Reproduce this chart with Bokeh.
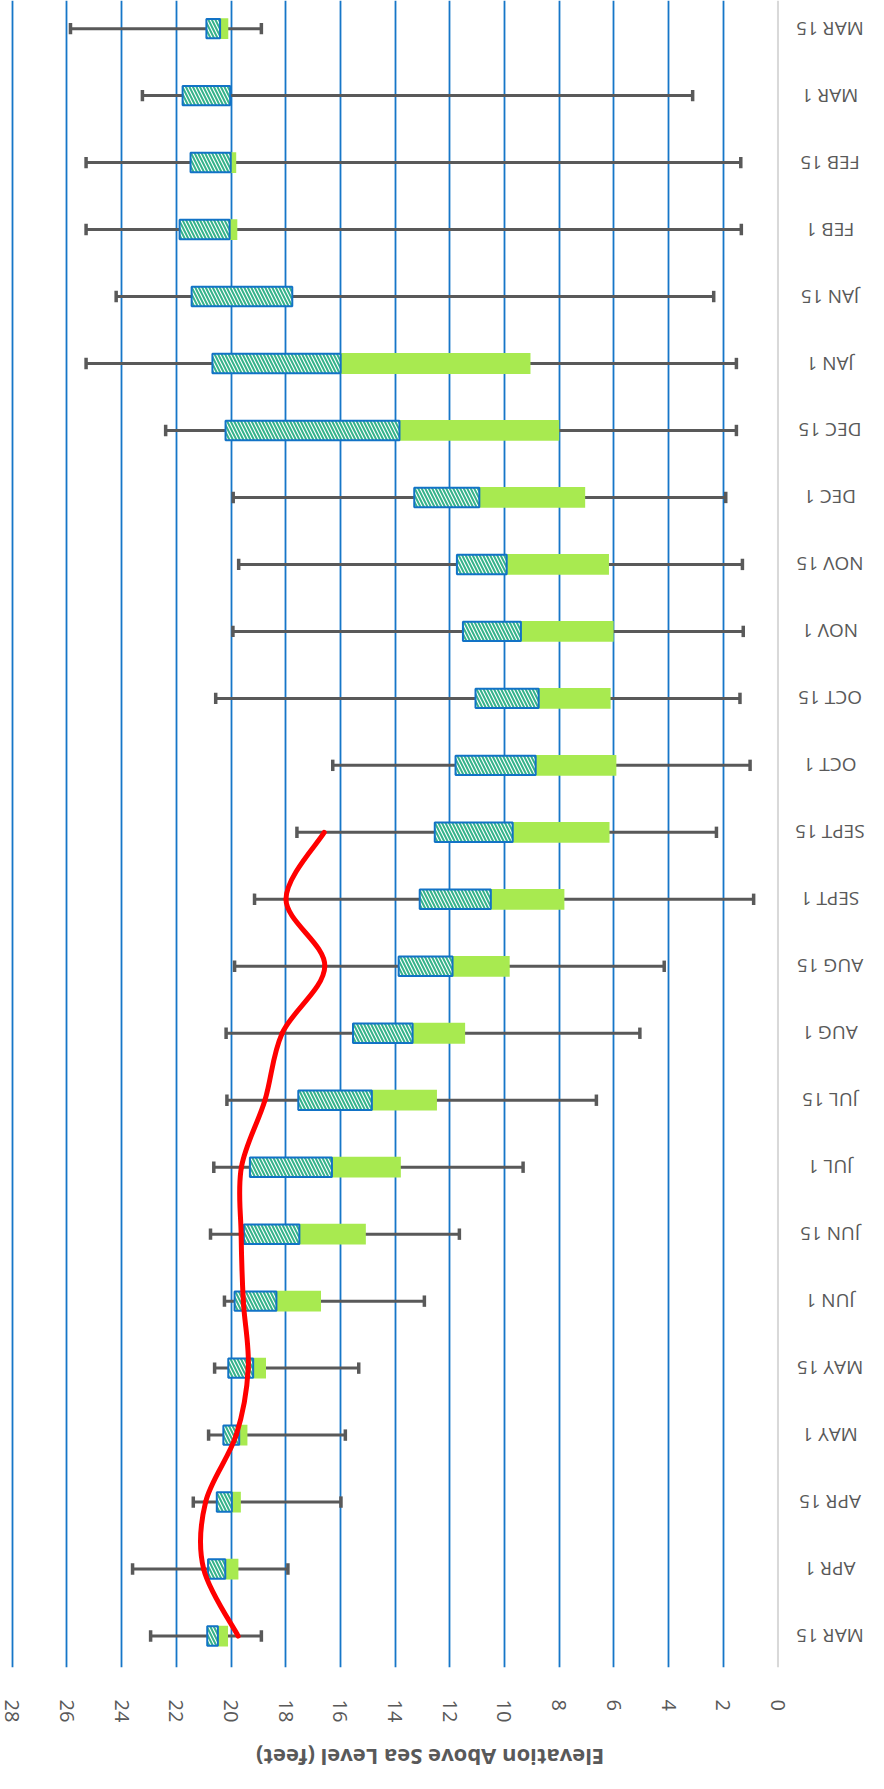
import numpy as np
from bokeh.plotting import figure
from bokeh.layouts import column
from bokeh.models import FixedTicker, Range1d, Span
from bokeh.core.properties import value
from bokeh.embed import file_html
from bokeh.resources import INLINE

# ---- data (chronological, bottom row first) ----
dates = ["MAR 15", "APR 1", "APR 15", "MAY 1", "MAY 15", "JUN 1", "JUN 15",
         "JUL 1", "JUL 15", "AUG 1", "AUG 15", "SEPT 1", "SEPT 15", "OCT 1",
         "OCT 15", "NOV 1", "NOV 15", "DEC 1", "DEC 15", "JAN 1", "JAN 15",
         "FEB 1", "FEB 15", "MAR 1", "MAR 15"]
whisker_high = [22.94, 23.60, 21.38, 20.82, 20.60, 20.24, 20.75, 20.63, 20.15,
                20.18, 19.87, 19.14, 17.59, 16.28, 20.56, 19.93, 19.72, 19.92,
                22.39, 25.30, 24.20, 25.30, 25.30, 23.24, 25.87]
whisker_low = [18.89, 17.92, 15.98, 15.82, 15.33, 12.93, 11.65, 9.32, 6.64,
               5.05, 4.16, 0.89, 2.25, 1.02, 1.39, 1.27, 1.30, 1.91, 1.52,
               1.52, 2.35, 1.34, 1.36, 3.12, 18.89]
upper = [20.87, 20.84, 20.52, 20.28, 20.10, 19.87, 19.53, 19.31, 17.54, 15.54,
         13.87, 13.10, 12.55, 11.79, 11.06, 11.52, 11.74, 13.30, 20.20, 20.68,
         21.44, 21.88, 21.48, 21.77, 20.90]
median = [20.48, 20.21, 19.97, 19.70, 19.19, 18.34, 17.50, 16.31, 14.85, 13.36,
          11.90, 10.50, 9.70, 8.86, 8.75, 9.40, 9.92, 10.92, 13.84, 15.99,
          17.76, 20.05, 20.01, 20.03, 20.40]
lower = [20.11, 19.73, 19.64, 19.40, 18.72, 16.71, 15.07, 13.79, 12.47, 11.44,
         9.81, 7.81, 6.16, 5.91, 6.12, 6.01, 6.18, 7.05, 8.00, 9.05, 17.76,
         19.77, 19.81, 20.03, 20.10]
current = [19.74, 21.00, 20.93, 19.81, 19.37, 19.55, 19.63, 19.62, 18.76,
           18.13, 16.57, 17.99, 16.59]
value_ticks = list(range(0, 30, 2))
axis_title = "Elevation Above Sea Level (feet)"

rows = list(range(len(dates)))
FONT = "Open Sans"
GRAY = "#595959"
W = 868
H_MAIN = 1730
H_TITLE = 43

p = figure(width=W, height=H_MAIN, output_backend="svg", toolbar_location=None,
           x_range=Range1d(28.1, -3.31), y_range=Range1d(-0.47, 24.42),
           y_axis_location=None, min_border_left=9, min_border_right=0,
           min_border_top=0, min_border_bottom=63)
p.outline_line_color = None
p.background_fill_color = "white"
p.border_fill_color = "white"

ax = p.xaxis[0]
ax.ticker = FixedTicker(ticks=value_ticks)
ax.axis_line_color = None
ax.major_tick_line_color = None
ax.minor_tick_line_color = None
ax.major_label_orientation = "vertical"
ax.major_label_standoff = 26
ax.major_label_text_font = FONT
ax.major_label_text_font_size = "20px"
ax.major_label_text_color = GRAY

g = p.xgrid[0]
g.ticker = FixedTicker(ticks=[t for t in value_ticks if t > 0])
g.grid_line_color = "#1676C8"
g.grid_line_width = 1.8
p.ygrid.visible = False

p.add_layout(Span(location=0, dimension="height", line_color="#D9D9D9",
                  line_width=2))

# whiskers
p.segment(x0=whisker_low, y0=rows, x1=whisker_high, y1=rows,
          line_color=GRAY, line_width=3)
cap = 0.085
p.segment(x0=whisker_low, y0=[r - cap for r in rows], x1=whisker_low,
          y1=[r + cap for r in rows], line_color=GRAY, line_width=3.5)
p.segment(x0=whisker_high, y0=[r - cap for r in rows], x1=whisker_high,
          y1=[r + cap for r in rows], line_color=GRAY, line_width=3.5)

# boxes
p.hbar(y=rows, left=lower, right=median, height=0.31,
       fill_color="#A8EA50", line_color=None)
p.hbar(y=rows, left=median, right=upper, height=0.29,
       fill_color="white", hatch_pattern="left_diagonal_line",
       hatch_color="#35B28A", hatch_scale=7, hatch_weight=2,
       line_color="#1273C6", line_width=2)

# current-year smooth line (Bezier through the points)
P = np.column_stack([np.array(current, float), np.arange(len(current), dtype=float)])
E = np.vstack([P[0], P, P[-1]])
x0, y0, x1, y1, cx0, cy0, cx1, cy1 = ([] for _ in range(8))
for i in range(len(P) - 1):
    p0, p1, p2, p3 = E[i], E[i + 1], E[i + 2], E[i + 3]
    c1 = p1 + (p2 - p0) / 6.0
    c2 = p2 - (p3 - p1) / 6.0
    x0.append(p1[0]); y0.append(p1[1]); x1.append(p2[0]); y1.append(p2[1])
    cx0.append(c1[0]); cy0.append(c1[1]); cx1.append(c2[0]); cy1.append(c2[1])
p.bezier(x0=x0, y0=y0, x1=x1, y1=y1, cx0=cx0, cy0=cy0, cx1=cx1, cy1=cy1,
         line_color="#FF0000", line_width=5, line_cap="round")

# category labels (upside down)
p.text(x=[0] * len(dates), y=rows, text=dates, angle=np.pi, x_offset=52,
       text_align="center", text_baseline="middle",
       text_font=value(FONT), text_font_size="19px", text_color=GRAY)

# axis title strip (upside-down text), pixel coordinates
t = figure(width=W, height=H_TITLE, output_backend="svg", toolbar_location=None,
           x_range=Range1d(0, W), y_range=Range1d(0, H_TITLE),
           x_axis_location=None, y_axis_location=None, min_border=0)
t.outline_line_color = None
t.xgrid.visible = False
t.ygrid.visible = False
t.text(x=[425], y=[16], text=[axis_title], angle=np.pi,
       text_align="center", text_baseline="middle",
       text_font=value(FONT), text_font_style="bold",
       text_font_size="22px", text_color=GRAY)

layout = column(p, t, spacing=0)
open("out.html", "w").write(file_html(layout, INLINE))
